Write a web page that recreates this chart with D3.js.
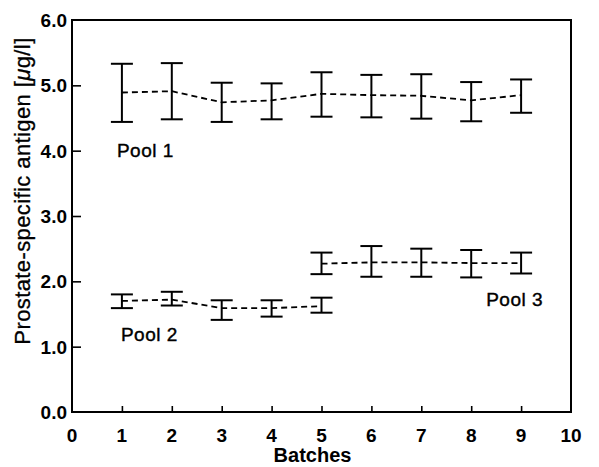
<!DOCTYPE html>
<html>
<head>
<meta charset="utf-8">
<script src="https://cdn.jsdelivr.net/npm/d3@7/dist/d3.min.js"></script>
<style>
  html, body { margin: 0; padding: 0; background: #fff; }
  svg { display: block; font-family: "Liberation Sans", Arial, Helvetica, sans-serif; }
</style>
</head>
<body>
<div id="chart"></div>
<script>
// PSA control pools across batches, mean with error bars.

const xTicks = [0, 1, 2, 3, 4, 5, 6, 7, 8, 9, 10];
const yTicks = [0, 1, 2, 3, 4, 5, 6];

const pool1Batches = [1, 2, 3, 4, 5, 6, 7, 8, 9];
const pool1Mean = [4.89, 4.91, 4.74, 4.77, 4.87, 4.85, 4.84, 4.77, 4.85];
const pool1Low  = [4.44, 4.48, 4.44, 4.48, 4.52, 4.51, 4.49, 4.45, 4.58];
const pool1High = [5.33, 5.34, 5.04, 5.03, 5.20, 5.16, 5.17, 5.05, 5.09];

const pool2Batches = [1, 2, 3, 4, 5];
const pool2Mean = [1.70, 1.72, 1.59, 1.59, 1.62];
const pool2Low  = [1.59, 1.63, 1.41, 1.46, 1.52];
const pool2High = [1.80, 1.84, 1.71, 1.71, 1.75];

const pool3Batches = [5, 6, 7, 8, 9];
const pool3Mean = [2.27, 2.29, 2.29, 2.28, 2.28];
const pool3Low  = [2.11, 2.07, 2.07, 2.06, 2.12];
const pool3High = [2.44, 2.54, 2.50, 2.48, 2.44];

const W = 599, H = 467;
const MARGIN = { top: 20, right: 28, bottom: 55, left: 72 };
const CAP = 11; // half width of error bar caps

const svg = d3.select("#chart").append("svg")
  .attr("width", W)
  .attr("height", H);

const x = d3.scaleLinear().domain([0, 10]).range([MARGIN.left, W - MARGIN.right]);
const y = d3.scaleLinear().domain([0, 6]).range([H - MARGIN.bottom, MARGIN.top]);

// frame
svg.append("rect")
  .attr("x", x(0)).attr("y", y(6))
  .attr("width", x(10) - x(0)).attr("height", y(0) - y(6))
  .attr("fill", "none")
  .attr("stroke", "#000")
  .attr("stroke-width", 2);

// axes: ticks point inward
const xAxis = svg.append("g")
  .attr("transform", `translate(0,${y(0)})`)
  .call(d3.axisTop(x).tickValues(xTicks.slice(1, -1)).tickSize(6).tickFormat(""));
xAxis.select(".domain").remove();
xAxis.selectAll("line").attr("stroke-width", 1.6);

svg.append("g").selectAll("text")
  .data(xTicks)
  .join("text")
  .attr("x", d => x(d))
  .attr("y", y(0) + 30)
  .attr("text-anchor", "middle")
  .attr("font-size", 19)
  .attr("font-weight", 700)
  .text(d => String(d));

const yAxis = svg.append("g")
  .attr("transform", `translate(${x(0)},0)`)
  .call(d3.axisRight(y).tickValues(yTicks.slice(1, -1)).tickSize(9).tickFormat(""));
yAxis.select(".domain").remove();
yAxis.selectAll("line").attr("stroke-width", 1.6);

svg.append("g").selectAll("text")
  .data(yTicks)
  .join("text")
  .attr("x", x(0) - 5)
  .attr("y", d => y(d) + 7)
  .attr("text-anchor", "end")
  .attr("font-size", 19)
  .attr("font-weight", 700)
  .text(d => d.toFixed(1));

// axis titles
svg.append("text")
  .attr("x", (x(0) + x(10)) / 2 - 9)
  .attr("y", H - 5)
  .attr("text-anchor", "middle")
  .attr("font-size", 20)
  .attr("font-weight", 700)
  .text("Batches");

const yTitle = svg.append("text")
  .attr("transform", `translate(30,191) rotate(-90)`)
  .attr("text-anchor", "middle")
  .attr("font-size", 22)
  .attr("letter-spacing", 0.4)
  .attr("stroke", "#000")
  .attr("stroke-width", 0.3);
yTitle.append("tspan").text("Prostate-specific antigen [");
yTitle.append("tspan").attr("font-style", "italic").text("\u03bc");
yTitle.append("tspan").text("g/l]");

// pools
const pools = [
  { batches: pool1Batches, mean: pool1Mean, low: pool1Low, high: pool1High },
  { batches: pool2Batches, mean: pool2Mean, low: pool2Low, high: pool2High },
  { batches: pool3Batches, mean: pool3Mean, low: pool3Low, high: pool3High },
];

const line = d3.line()
  .x(d => x(d.b))
  .y(d => y(d.m));

pools.forEach(p => {
  const rows = p.batches.map((b, i) => ({ b, m: p.mean[i], lo: p.low[i], hi: p.high[i] }));
  const g = svg.append("g");

  g.append("path")
    .datum(rows)
    .attr("fill", "none")
    .attr("stroke", "#000")
    .attr("stroke-width", 1.8)
    .attr("stroke-dasharray", "6 4")
    .attr("d", line);

  const bars = g.selectAll("g.bar").data(rows).join("g").attr("class", "bar");
  bars.append("line")
    .attr("x1", d => x(d.b)).attr("x2", d => x(d.b))
    .attr("y1", d => y(d.lo)).attr("y2", d => y(d.hi))
    .attr("stroke", "#000").attr("stroke-width", 2);
  bars.append("line")
    .attr("x1", d => x(d.b) - CAP).attr("x2", d => x(d.b) + CAP)
    .attr("y1", d => y(d.hi)).attr("y2", d => y(d.hi))
    .attr("stroke", "#000").attr("stroke-width", 2);
  bars.append("line")
    .attr("x1", d => x(d.b) - CAP).attr("x2", d => x(d.b) + CAP)
    .attr("y1", d => y(d.lo)).attr("y2", d => y(d.lo))
    .attr("stroke", "#000").attr("stroke-width", 2);
});

// pool labels
const labels = [
  { text: "Pool 1", bx: 0.9, v: 3.9 },
  { text: "Pool 2", bx: 0.98, v: 1.09 },
  { text: "Pool 3", bx: 8.3, v: 1.62 },
];
svg.append("g").selectAll("text")
  .data(labels)
  .join("text")
  .attr("x", d => x(d.bx))
  .attr("y", d => y(d.v))
  .attr("font-size", 19)
  .attr("letter-spacing", 0.5)
  .attr("stroke", "#000")
  .attr("stroke-width", 0.4)
  .text(d => d.text);
</script>
</body>
</html>
